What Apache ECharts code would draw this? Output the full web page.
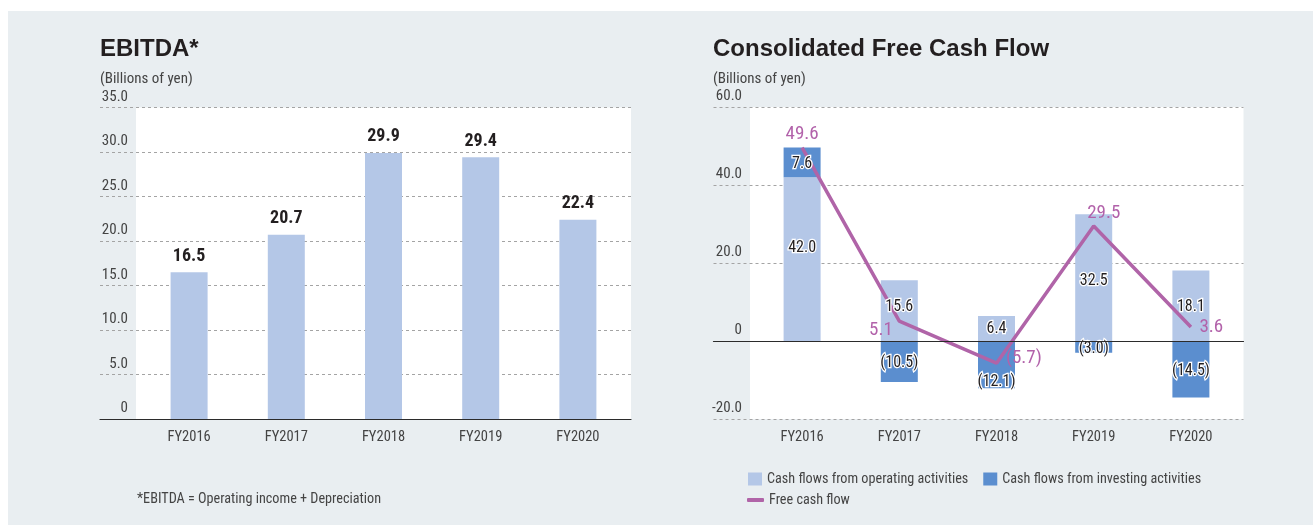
<!DOCTYPE html>
<html>
<head>
<meta charset="utf-8">
<script src="https://cdn.jsdelivr.net/npm/echarts@6/dist/echarts.min.js"></script>
<style>
  html, body { margin: 0; padding: 0; background: #ffffff; }
  #bg { position: absolute; left: 8px; top: 11px; right: 0; bottom: 0; background: #e9eef1; }
  #chart { position: absolute; left: 0; top: 0; width: 1313px; height: 525px; }
</style>
</head>
<body>
<div id="bg"></div>
<div id="chart"></div>
<script>
// ---- data ----
const categories = ['FY2016', 'FY2017', 'FY2018', 'FY2019', 'FY2020'];
const ebitda = [16.5, 20.7, 29.9, 29.4, 22.4];
const operatingCF = [42.0, 15.6, 6.4, 32.5, 18.1];
const investingCF = [7.6, -10.5, -12.1, -3.0, -14.5];
const freeCF = [49.6, 5.1, -5.7, 29.5, 3.6];
const ebitdaAxis = { min: 0, max: 35, interval: 5 };
const fcfAxis = { min: -20, max: 60, interval: 20 };
const seriesNames = {
  op: 'Cash flows from operating activities',
  inv: 'Cash flows from investing activities',
  fcf: 'Free cash flow'
};

// ---- styling ----
const NARROW = "'Roboto Condensed', 'DejaVu Sans Condensed', sans-serif";
const BOLD = "'Liberation Sans', Arial, sans-serif";
const LIGHT = '#b4c7e7';
const DARK = '#5b8ecf';
const PURPLE = '#b064a8';
const TXT = '#444444';
const CLEAR = 'rgba(0,0,0,0)';

const fmtTick = v => v === 0 ? '0' : v.toFixed(1);
const fmtVal = v => v < 0 ? '(' + Math.abs(v).toFixed(1) + ')' : v.toFixed(1);

const W = 1313, H = 525;
const gridsPx = [
  // left: white bg, gridlines, bars
  { left: 136, right: W - 631, top: 107.5, bottom: H - 419, show: true, backgroundColor: '#ffffff', borderWidth: 0 },
  { left: 100, right: W - 631, top: 107.5, bottom: H - 419 },
  { left: 140.5, right: W - 626.5, top: 107.5, bottom: H - 419 },
  // right: white bg, gridlines, bars
  { left: 750, right: W - 1243.5, top: 107, bottom: H - 419, show: true, backgroundColor: '#ffffff', borderWidth: 0 },
  { left: 713.5, right: W - 1243.5, top: 107, bottom: H - 419 },
  { left: 753.5, right: W - 1239.5, top: 107, bottom: H - 419 }
];

const hiddenValueAxis = gi => ({ type: 'value', gridIndex: gi, show: false, min: 0, max: 1 });
const baseLineAxis = gi => ({
  type: 'value', gridIndex: gi, min: 0, max: 1, z: 6,
  axisLine: { show: true, onZero: true, lineStyle: { color: '#2b2b2b', width: 1.2 } },
  axisTick: { show: false }, axisLabel: { show: false }, splitLine: { show: false }
});
const catAxis = gi => ({
  type: 'category', gridIndex: gi, data: categories,
  axisLine: { show: false, onZero: false }, axisTick: { show: false },
  axisLabel: { margin: 11, color: TXT, fontSize: 14.5, fontFamily: NARROW }
});
const tickAxis = (gi, a, margin) => ({
  type: 'value', gridIndex: gi, min: a.min, max: a.max, interval: a.interval, z: 0,
  axisLine: { show: false }, axisTick: { show: false },
  splitLine: { show: true, lineStyle: { color: '#a4a4a4', type: [3, 3], width: 1 } },
  axisLabel: {
    inside: true, margin: margin, align: 'right', verticalAlign: 'bottom',
    padding: [0, 0, 3, 0], color: TXT, fontSize: 15, fontFamily: NARROW, formatter: fmtTick
  }
});
const hiddenRangeAxis = (gi, a) => ({ type: 'value', gridIndex: gi, min: a.min, max: a.max, show: false });

const fcfLabelPlacement = [
  { position: 'top', distance: 3, offset: [0, 0] },
  { position: 'left', distance: 6, offset: [0, 9] },
  { position: 'right', distance: 6, offset: [3, -5] },
  { position: 'top', distance: 3, offset: [10, 0] },
  { position: 'right', distance: 8, offset: [0, 0] }
];
const opLabelOffset = [[0, -11], [0, -4], [0, 0], [0, 3], [0, 1]];
const invLabelOffset = [[0, 2], [0, 2], [0, 17], [0, 2], [0, 2]];

const barLabelStyle = {
  show: true, position: 'inside', color: '#231f20', fontSize: 16, fontFamily: NARROW,
  textBorderColor: '#ffffff', textBorderWidth: 2.5, formatter: p => fmtVal(p.value)
};

const option = {
  animation: false,
  title: [
    {
      text: 'EBITDA*', subtext: '(Billions of yen)', left: 100, top: 37, padding: 0, itemGap: 11,
      textStyle: { fontSize: 24, fontWeight: 'bold', fontFamily: BOLD, color: '#231f20' },
      subtextStyle: { fontSize: 15, fontFamily: NARROW, color: TXT }
    },
    {
      text: 'Consolidated Free Cash Flow', subtext: '(Billions of yen)', left: 713, top: 37, padding: 0, itemGap: 11,
      textStyle: { fontSize: 24, fontWeight: 'bold', fontFamily: BOLD, color: '#231f20' },
      subtextStyle: { fontSize: 15, fontFamily: NARROW, color: TXT }
    },
    {
      text: '*EBITDA = Operating income + Depreciation', left: 137, top: 492, padding: 0,
      textStyle: { fontSize: 14.2, fontWeight: 'normal', fontFamily: NARROW, color: TXT }
    }
  ],
  legend: [
    {
      data: [seriesNames.op, seriesNames.inv], left: 748, top: 472, padding: 0,
      itemWidth: 14, itemHeight: 13, itemGap: 15, icon: 'rect',
      textStyle: { fontSize: 14.2, fontFamily: NARROW, color: TXT }
    },
    {
      data: [seriesNames.fcf], left: 747, top: 493, padding: 0,
      itemWidth: 17, itemHeight: 4, icon: 'roundRect',
      textStyle: { fontSize: 14.2, fontFamily: NARROW, color: TXT }
    }
  ],
  grid: gridsPx,
  xAxis: [
    hiddenValueAxis(0), baseLineAxis(1), catAxis(2),
    hiddenValueAxis(3), baseLineAxis(4), catAxis(5)
  ],
  yAxis: [
    hiddenValueAxis(0), tickAxis(1, ebitdaAxis, 28), hiddenRangeAxis(2, ebitdaAxis),
    hiddenValueAxis(3), tickAxis(4, fcfAxis, 28.5), hiddenRangeAxis(5, fcfAxis)
  ],
  series: [
    {
      name: 'EBITDA', type: 'bar', xAxisIndex: 2, yAxisIndex: 2, barWidth: 37,
      data: ebitda, itemStyle: { color: LIGHT }, z: 2,
      label: {
        show: true, position: 'top', distance: 7, color: '#231f20', fontSize: 18,
        fontWeight: 'bold', fontFamily: NARROW, formatter: p => p.value.toFixed(1)
      }
    },
    {
      name: seriesNames.op, type: 'bar', xAxisIndex: 5, yAxisIndex: 5, stack: 'cf', barWidth: 37,
      barGap: '-100%', data: operatingCF, itemStyle: { color: LIGHT }, z: 2
    },
    {
      name: seriesNames.inv, type: 'bar', xAxisIndex: 5, yAxisIndex: 5, stack: 'cf', barWidth: 37,
      barGap: '-100%', data: investingCF, itemStyle: { color: DARK }, z: 2
    },
    {
      name: seriesNames.fcf, type: 'line', xAxisIndex: 5, yAxisIndex: 5, z: 3,
      symbol: 'none', lineStyle: { color: PURPLE, width: 3.5 }, itemStyle: { color: PURPLE },
      data: freeCF
    },
    // label carriers drawn above the line (transparent, same data)
    {
      name: 'fcf-labels', type: 'line', xAxisIndex: 5, yAxisIndex: 5, z: 6, silent: true,
      symbol: 'circle', symbolSize: 1, showSymbol: true,
      lineStyle: { color: CLEAR, width: 0 }, itemStyle: { color: CLEAR },
      data: freeCF.map((v, i) => ({
        value: v,
        label: Object.assign({
          show: true, color: '#b262aa', fontSize: 19, fontFamily: NARROW,
          formatter: p => fmtVal(p.value)
        }, fcfLabelPlacement[i])
      }))
    },
    {
      name: 'op-labels', type: 'bar', xAxisIndex: 5, yAxisIndex: 5, stack: 'cfl', barWidth: 37,
      barGap: '-100%',
      data: operatingCF.map((v, i) => ({ value: v, label: { offset: opLabelOffset[i] } })),
      itemStyle: { color: CLEAR }, z: 5, silent: true,
      label: barLabelStyle
    },
    {
      name: 'inv-labels', type: 'bar', xAxisIndex: 5, yAxisIndex: 5, stack: 'cfl', barWidth: 37,
      barGap: '-100%',
      data: investingCF.map((v, i) => ({ value: v, label: { offset: invLabelOffset[i] } })),
      itemStyle: { color: CLEAR }, z: 5, silent: true,
      label: barLabelStyle
    }
  ]
};

const chart = echarts.init(document.getElementById('chart'), null, { renderer: 'canvas', width: W, height: H });
chart.setOption(option);
</script>
</body>
</html>
